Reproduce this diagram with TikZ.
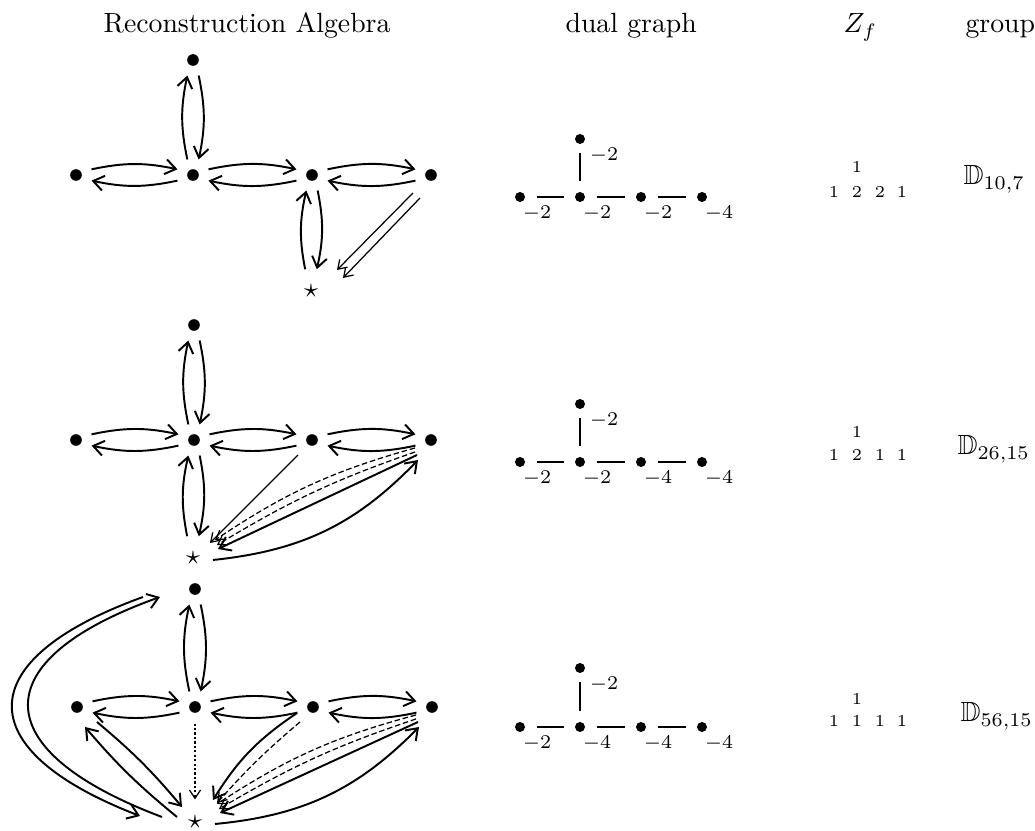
\documentclass[tikz,border=0pt]{standalone}
\usepackage{amssymb}
\usetikzlibrary{arrows.meta,calc}
\begin{document}
\begin{tikzpicture}[x=0.36pt,y=0.36pt,
  vtx/.style={circle,inner sep=0pt,minimum size=11.5pt,
    path picture={\fill[black] (path picture bounding box.center) circle (2.1pt);}},
  stv/.style={circle,inner sep=0pt,minimum size=15.8pt},
  arr/.style={-{Straight Barb[length=3.8pt,width=5.4pt]},line width=0.7pt},
  pr/.style={arr,bend left=12},
  thinarr/.style={-{Straight Barb[length=3pt,width=4pt]},line width=0.45pt},
  dsh/.style={thinarr,dash pattern=on 2pt off 1pt},
  dtt/.style={thinarr,dash pattern=on 0.8pt off 0.8pt},
  dg/.style={circle,fill=black,inner sep=0pt,minimum size=3.6pt},
  bar/.style={line width=0.6pt,shorten <=4pt,shorten >=3.8pt},
  vbar/.style={line width=0.6pt,shorten <=2.9pt,shorten >=3.6pt},
  dl/.style={font=\scriptsize,inner sep=0pt},
  zf/.style={font=\fontsize{6}{7}\selectfont,inner sep=0pt,anchor=base},
  hd/.style={inner sep=0pt,anchor=base west},
]
\useasboundingbox (0,0) rectangle (1035,831);

% headers
\node[hd] (h1) at (103,798) {Reconstruction Algebra};
\node[hd] (h2) at (565,798) {dual graph};
\node[hd] (h3) at (843,798) {$Z_f$};
\node[hd] (h4) at (965,798) {group};

% ---------- quiver row 1
\node[vtx] (T1) at (193,771) {};
\node[vtx] (L1) at (76,656) {};
\node[vtx] (C1) at (193,656) {};
\node[vtx] (R1) at (312,656) {};
\node[vtx] (E1) at (431,656) {};
\node[stv] (S1) at (311,540) {$\star$};
% ---------- quiver row 2
\node[vtx] (T2) at (194,506) {};
\node[vtx] (L2) at (76,391) {};
\node[vtx] (C2) at (194,391) {};
\node[vtx] (R2) at (312,391) {};
\node[vtx] (E2) at (431,391) {};
\node[stv] (S2) at (193,273) {$\star$};
% ---------- quiver row 3
\node[vtx] (T3) at (195,242) {};
\node[vtx] (L3) at (77,124) {};
\node[vtx] (C3) at (195,124) {};
\node[vtx] (R3) at (313,124) {};
\node[vtx] (E3) at (432,124) {};
\node[stv] (S3) at (195,9) {$\star$};

% horizontal pairs
\foreach \a/\b in {L1/C1,C1/R1,R1/E1,L2/C2,C2/R2,R2/E2,L3/C3,C3/R3,R3/E3}{
  \draw[pr] (\a.20) to (\b.160);
  \draw[pr] (\b.200) to (\a.340);
}
% vertical pairs
\foreach \a/\b in {T1/C1,T2/C2,T3/C3}{
  \draw[pr] (\b.110) to (\a.250);
  \draw[pr] (\a.290) to (\b.70);
}
% vertex - star pairs
\foreach \a/\b in {R1/S1,C2/S2}{
  \draw[pr] (\b.105) to (\a.250);
  \draw[pr] (\a.290) to (\b.75);
}

% row 1 extra
\draw[thinarr] ($(E1)+(-18,-18)$) -- ($(S1)+(26,21)$);
\draw[thinarr] ($(E1)+(-11,-23)$) -- ($(S1)+(32,13)$);

% row 2 extra
\draw[thinarr] ($(R2)+(-14,-15)$) -- ($(S2)+(17,15)$);
\draw[dsh] ($(E2)+(-16,-8)$) to[bend right=9] ($(S2)+(22,18)$);
\draw[dsh] ($(E2)+(-16,-12)$) to[bend right=6] ($(S2)+(24,13)$);
\draw[arr] ($(E2)+(-14,-15)$) -- ($(S2)+(25,9)$);
\draw[arr] ($(S2)+(20,-2)$) to[bend right=20] ($(E2)+(-13,-20)$);

% row 3 extra
\draw[dtt] (C3.270) -- (S3.90);
\draw[arr] ($(L3)+(20,-15)$) to[bend left=5] ($(S3)+(-13,15)$);
\draw[arr] ($(S3)+(-18,5)$) to[bend left=5] ($(L3)+(8,-20)$);
\draw[arr] ($(R3)+(-16,-6)$) to[bend right=12] ($(S3)+(18,22)$);
\draw[dsh] ($(R3)+(-13,-15)$) to[bend right=4] ($(S3)+(22,19)$);
\draw[dsh] ($(E3)+(-16,-8)$) to[bend right=9] ($(S3)+(22,18)$);
\draw[dsh] ($(E3)+(-16,-12)$) to[bend right=6] ($(S3)+(24,13)$);
\draw[arr] ($(E3)+(-14,-15)$) -- ($(S3)+(25,9)$);
\draw[arr] ($(S3)+(20,-2)$) to[bend right=20] ($(E3)+(-13,-20)$);
\draw[arr] ($(T3)+(-52,-8)$) .. controls (-31,171) and (-31,81) .. ($(S3)+(-55,6)$);
\draw[arr] ($(S3)+(-33,5)$) .. controls (-16,81) and (-16,171) .. ($(T3)+(-35,-8)$);

% ---------- dual graphs
% row 1
\node[dg] (d1a) at (520,634) {};
\node[dg] (d1b) at (580,634) {};
\node[dg] (d1c) at (641,634) {};
\node[dg] (d1d) at (702,634) {};
\node[dg] (d1t) at (580,692) {};
\draw[bar] (d1a) -- (d1b);
\draw[bar] (d1b) -- (d1c);
\draw[bar] (d1c) -- (d1d);
\draw[vbar] (d1t) -- (d1b);
\node[dl] (l1t) at (604,676) {$-2$};
\node[dl] (l1a) at (537,618) {$-2$};
\node[dl] (l1b) at (597,618) {$-2$};
\node[dl] (l1c) at (658,618) {$-2$};
\node[dl] (l1d) at (719,618) {$-4$};
% row 2
\node[dg] (d2a) at (520,369) {};
\node[dg] (d2b) at (580,369) {};
\node[dg] (d2c) at (641,369) {};
\node[dg] (d2d) at (702,369) {};
\node[dg] (d2t) at (580,427) {};
\draw[bar] (d2a) -- (d2b);
\draw[bar] (d2b) -- (d2c);
\draw[bar] (d2c) -- (d2d);
\draw[vbar] (d2t) -- (d2b);
\node[dl] (l2t) at (604,411) {$-2$};
\node[dl] (l2a) at (537,353) {$-2$};
\node[dl] (l2b) at (597,353) {$-2$};
\node[dl] (l2c) at (658,353) {$-4$};
\node[dl] (l2d) at (719,353) {$-4$};
% row 3
\node[dg] (d3a) at (520,104) {};
\node[dg] (d3b) at (580,104) {};
\node[dg] (d3c) at (641,104) {};
\node[dg] (d3d) at (702,104) {};
\node[dg] (d3t) at (580,163) {};
\draw[bar] (d3a) -- (d3b);
\draw[bar] (d3b) -- (d3c);
\draw[bar] (d3c) -- (d3d);
\draw[vbar] (d3t) -- (d3b);
\node[dl] (l3t) at (604,147) {$-2$};
\node[dl] (l3a) at (537,88) {$-2$};
\node[dl] (l3b) at (597,88) {$-4$};
\node[dl] (l3c) at (658,88) {$-4$};
\node[dl] (l3d) at (719,88) {$-4$};

% ---------- Z_f
\node[zf] (z1t) at (857,658) {1};
\node[zf] (z1a) at (834,633) {1};
\node[zf] (z1b) at (857,633) {2};
\node[zf] (z1c) at (880,633) {2};
\node[zf] (z1d) at (902,633) {1};
\node[zf] (z2t) at (857,393) {1};
\node[zf] (z2a) at (834,370) {1};
\node[zf] (z2b) at (857,370) {2};
\node[zf] (z2c) at (880,370) {1};
\node[zf] (z2d) at (902,370) {1};
\node[zf] (z3t) at (857,126) {1};
\node[zf] (z3a) at (834,104) {1};
\node[zf] (z3b) at (857,104) {1};
\node[zf] (z3c) at (880,104) {1};
\node[zf] (z3d) at (902,104) {1};

% ---------- groups
\node[hd] (g1) at (963,646) {$\mathbb{D}_{10,7}$};
\node[hd] (g2) at (957,376) {$\mathbb{D}_{26,15}$};
\node[hd] (g3) at (960,109) {$\mathbb{D}_{56,15}$};
\end{tikzpicture}
\end{document}
